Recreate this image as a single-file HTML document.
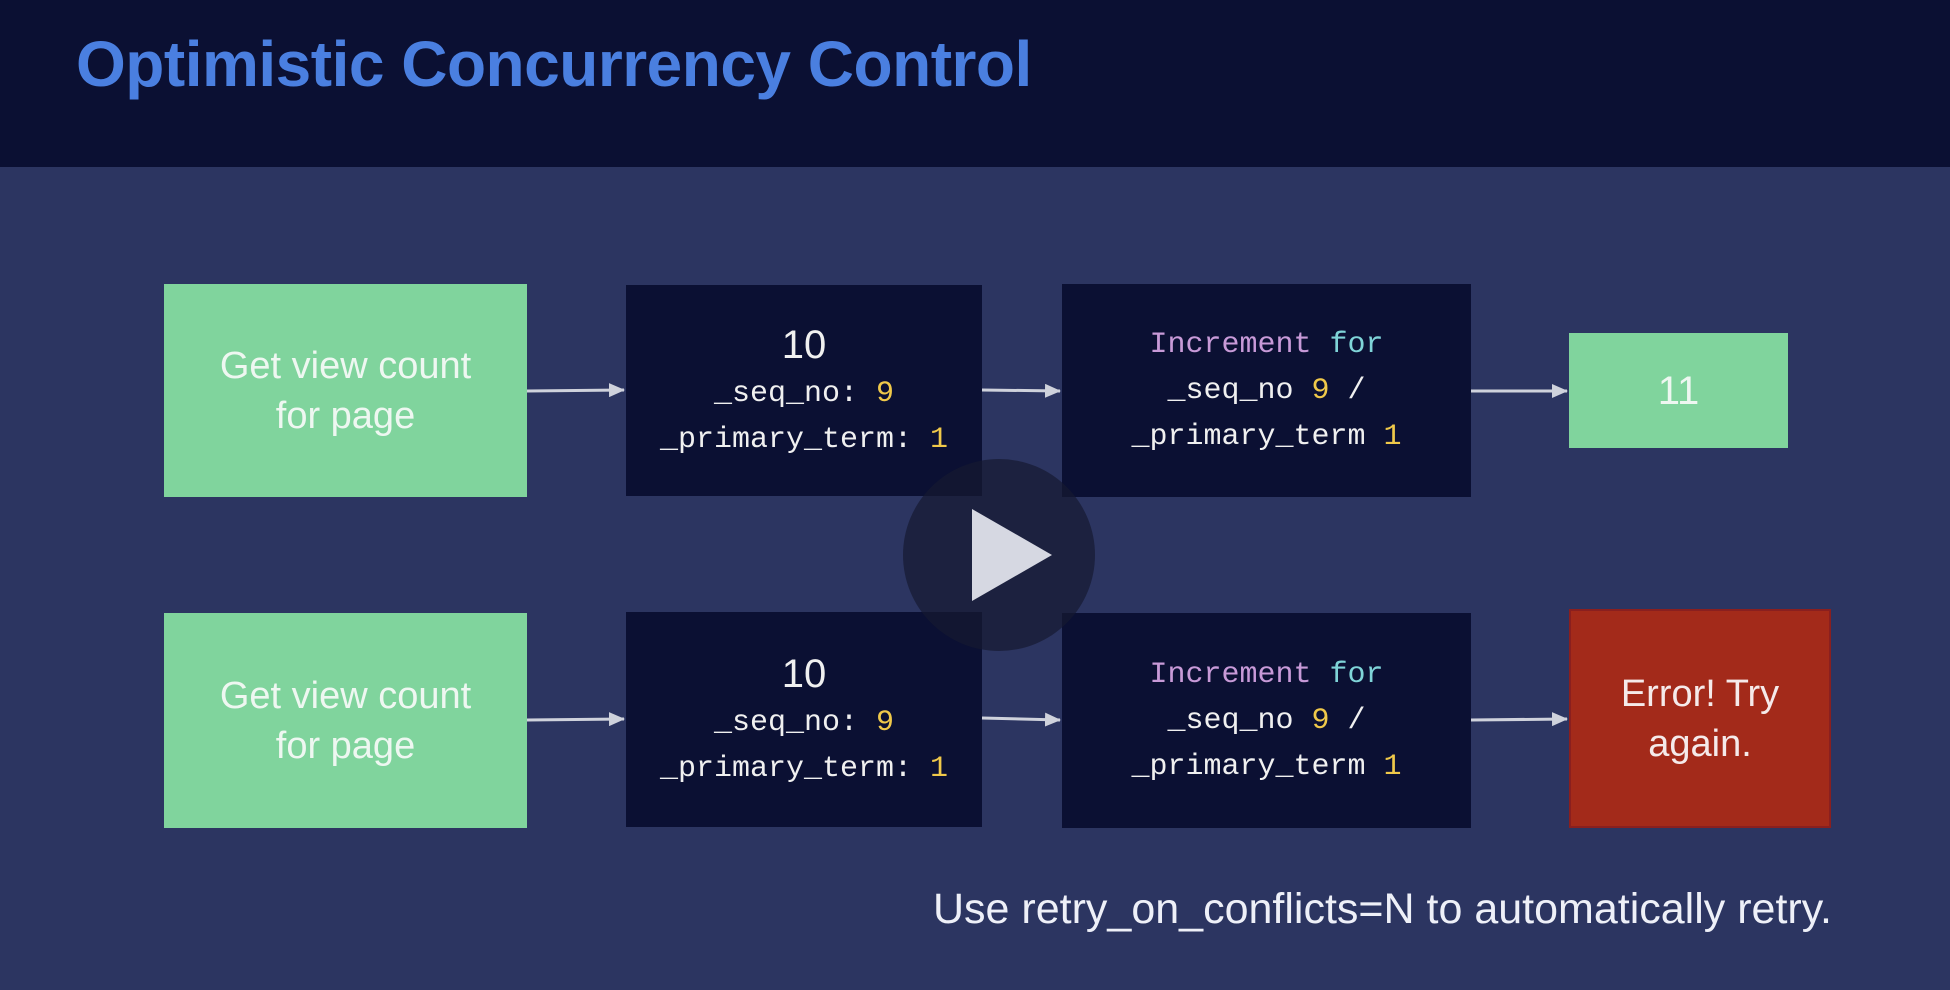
<!DOCTYPE html>
<html><head><meta charset="utf-8"><style>
body{margin:0;width:1950px;height:990px;background:#2c3561;position:relative;overflow:hidden;font-family:"Liberation Sans",sans-serif}
.hdr{position:absolute;left:0;top:0;width:1950px;height:167px;background:#0b1033}
.title{position:absolute;left:76px;top:27px;font-size:64px;font-weight:bold;color:#4a7fe0;letter-spacing:-0.5px}
.b{position:absolute;display:flex;flex-direction:column;align-items:center;justify-content:center;text-align:center}
.g{background:#80d49d;color:#eef7f1;font-size:38px;line-height:50px}
.d{background:#0b1033;color:#f0f0f0;font-family:"Liberation Mono","DejaVu Sans Mono",monospace;font-size:30px;line-height:46px}
.r{background:#a32a1a;border:2px solid #8a1f1f;box-sizing:border-box;color:#f5eaea;font-size:38px;line-height:50px}
.y{color:#f0c94a}.p{color:#c89ad8}.c{color:#7fd4d8}
.big{font-family:"Liberation Sans",sans-serif;font-size:40px;line-height:52px}
.note{position:absolute;left:933px;top:885px;font-size:43px;color:#eef0f8}
</style></head><body>
<div class="hdr"></div>
<div class="title">Optimistic Concurrency Control</div>

<div class="b g" style="left:164px;top:284px;width:363px;height:213px">Get view count<br>for page</div>
<div class="b d" style="left:626px;top:285px;width:356px;height:211px"><span class="big">10</span><span>_seq_no: <span class="y">9</span></span><span>_primary_term: <span class="y">1</span></span></div>
<div class="b d" style="left:1062px;top:284px;width:409px;height:213px"><span><span class="p">Increment</span> <span class="c">for</span></span><span>_seq_no <span class="y">9</span> /</span><span>_primary_term <span class="y">1</span></span></div>
<div class="b g" style="left:1569px;top:333px;width:219px;height:115px;font-size:40px">11</div>

<div class="b g" style="left:164px;top:613px;width:363px;height:215px">Get view count<br>for page</div>
<div class="b d" style="left:626px;top:612px;width:356px;height:215px"><span class="big">10</span><span>_seq_no: <span class="y">9</span></span><span>_primary_term: <span class="y">1</span></span></div>
<div class="b d" style="left:1062px;top:613px;width:409px;height:215px"><span><span class="p">Increment</span> <span class="c">for</span></span><span>_seq_no <span class="y">9</span> /</span><span>_primary_term <span class="y">1</span></span></div>
<div class="b r" style="left:1569px;top:609px;width:262px;height:219px">Error! Try<br>again.</div>

<svg width="1950" height="990" style="position:absolute;left:0;top:0">
<defs><marker id="a" markerWidth="16" markerHeight="14" refX="15" refY="7" orient="auto" markerUnits="userSpaceOnUse"><path d="M0,0 L16,7 L0,14 z" fill="#cfd2dc"/></marker></defs>
<g stroke="#cfd2dc" stroke-width="3" fill="none">
<line x1="527" y1="391" x2="624" y2="390" marker-end="url(#a)"/>
<line x1="982" y1="390" x2="1060" y2="391" marker-end="url(#a)"/>
<line x1="1471" y1="391" x2="1567" y2="391" marker-end="url(#a)"/>
<line x1="527" y1="720" x2="624" y2="719" marker-end="url(#a)"/>
<line x1="982" y1="718" x2="1060" y2="720" marker-end="url(#a)"/>
<line x1="1471" y1="720" x2="1567" y2="719" marker-end="url(#a)"/>
</g>
<circle cx="999" cy="555" r="96" fill="rgba(22,26,48,0.7)"/>
<polygon points="972,509 1052,555 972,601" fill="#d6d8e2"/>
</svg>
<div class="note">Use retry_on_conflicts=N to automatically retry.</div>
</body></html>
